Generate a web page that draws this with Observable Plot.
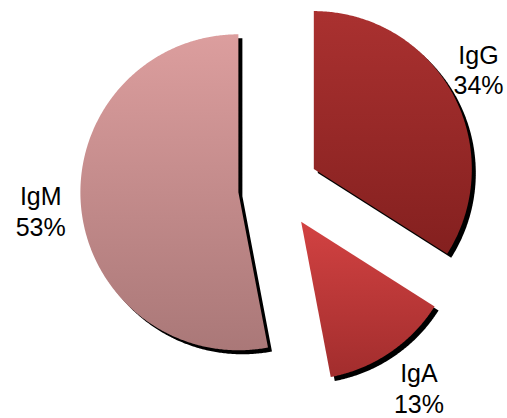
<!DOCTYPE html>
<html>
<head>
<meta charset="utf-8">
<script src="https://cdn.jsdelivr.net/npm/d3@7"></script>
<script src="https://cdn.jsdelivr.net/npm/@observablehq/plot@0.6"></script>
<style>
  html, body { margin: 0; padding: 0; background: #fff; }
  #chart { width: 507px; height: 418px; }
</style>
</head>
<body>
<div id="chart"></div>
<script>
// ---- data ----
const categories = ["IgG", "IgA", "IgM"];
const percents = [34, 13, 53];
const topColors = ["#aa3130", "#d24242", "#dc9e9e"];
const bottomColors = ["#84201f", "#a22d2d", "#aa7878"];

// ---- geometry (data units: pie radius = 1) ----
const W = 507, H = 418;
const unit = 158;
const cx = 278, cy = 188;
const explode = 0.255;
const labelGap = 0.068;
const labelHalfW = 27 / unit, labelHalfH = 31 / unit;

const total = d3.sum(percents);
let acc = 0;
const slices = categories.map((name, i) => {
  const a0 = acc / total * 2 * Math.PI;
  acc += percents[i];
  const a1 = acc / total * 2 * Math.PI;
  const mid = (a0 + a1) / 2;
  return {name, i, a0, a1, mid, ox: explode * Math.sin(mid), oy: explode * Math.cos(mid)};
});

const points = [];
for (const s of slices) {
  points.push({name: s.name, x: s.ox, y: s.oy});
  const n = Math.max(2, Math.ceil((s.a1 - s.a0) / (Math.PI / 360)));
  for (let k = 0; k <= n; k++) {
    const a = s.a0 + (s.a1 - s.a0) * k / n;
    points.push({name: s.name, x: s.ox + Math.sin(a), y: s.oy + Math.cos(a)});
  }
  points.push({name: s.name, x: s.ox, y: s.oy});
}

// label placement: outside each slice along its mid angle, kept inside the chart area
const xMax = (W - cx) / unit - (labelHalfW + 2 / unit);
const xMin = -cx / unit + (labelHalfW + 2 / unit);
const yMin = (cy - H) / unit + labelHalfH;
const yMax = cy / unit - labelHalfH;
const labelData = slices.map(s => {
  const dx = Math.sin(s.mid), dy = Math.cos(s.mid);
  const r = 1 + explode + labelGap + Math.abs(dx) * labelHalfW + Math.abs(dy) * labelHalfH;
  return {
    x: Math.max(xMin, Math.min(xMax, r * dx)),
    y: Math.max(yMin, Math.min(yMax, r * dy)),
    text: `${s.name}\n${percents[s.i]}%`
  };
});

// gradient defs as a custom mark
const defsMark = () => {
  const g = document.createElementNS("http://www.w3.org/2000/svg", "g");
  g.innerHTML = "<defs>" + slices.map(s =>
    `<linearGradient id="grad${s.i}" x1="0" y1="0" x2="0" y2="1">
       <stop offset="0" stop-color="${topColors[s.i]}"/>
       <stop offset="1" stop-color="${bottomColors[s.i]}"/>
     </linearGradient>`).join("") + "</defs>";
  return g;
};

const plot = Plot.plot({
  width: W,
  height: H,
  margin: 0,
  style: {background: "white", overflow: "visible"},
  x: {domain: [-cx / unit, (W - cx) / unit], axis: null},
  y: {domain: [(cy - H) / unit, cy / unit], axis: null},
  marks: [
    defsMark,
    Plot.line(points, {x: "x", y: "y", z: "name", fill: "black", stroke: "none", dx: 4, dy: 4, curve: "linear"}),
    ...slices.map(s => Plot.line(points.filter(p => p.name === s.name), {
      x: "x", y: "y", fill: `url(#grad${s.i})`, stroke: "none", curve: "linear"
    })),
    Plot.text(labelData, {
      x: "x", y: "y", text: "text",
      fontSize: 25, lineHeight: 1.22,
      fontFamily: "Arial, 'Liberation Sans', sans-serif",
      fill: "black", textAnchor: "middle"
    })
  ]
});
document.getElementById("chart").appendChild(plot);
</script>
</body>
</html>
